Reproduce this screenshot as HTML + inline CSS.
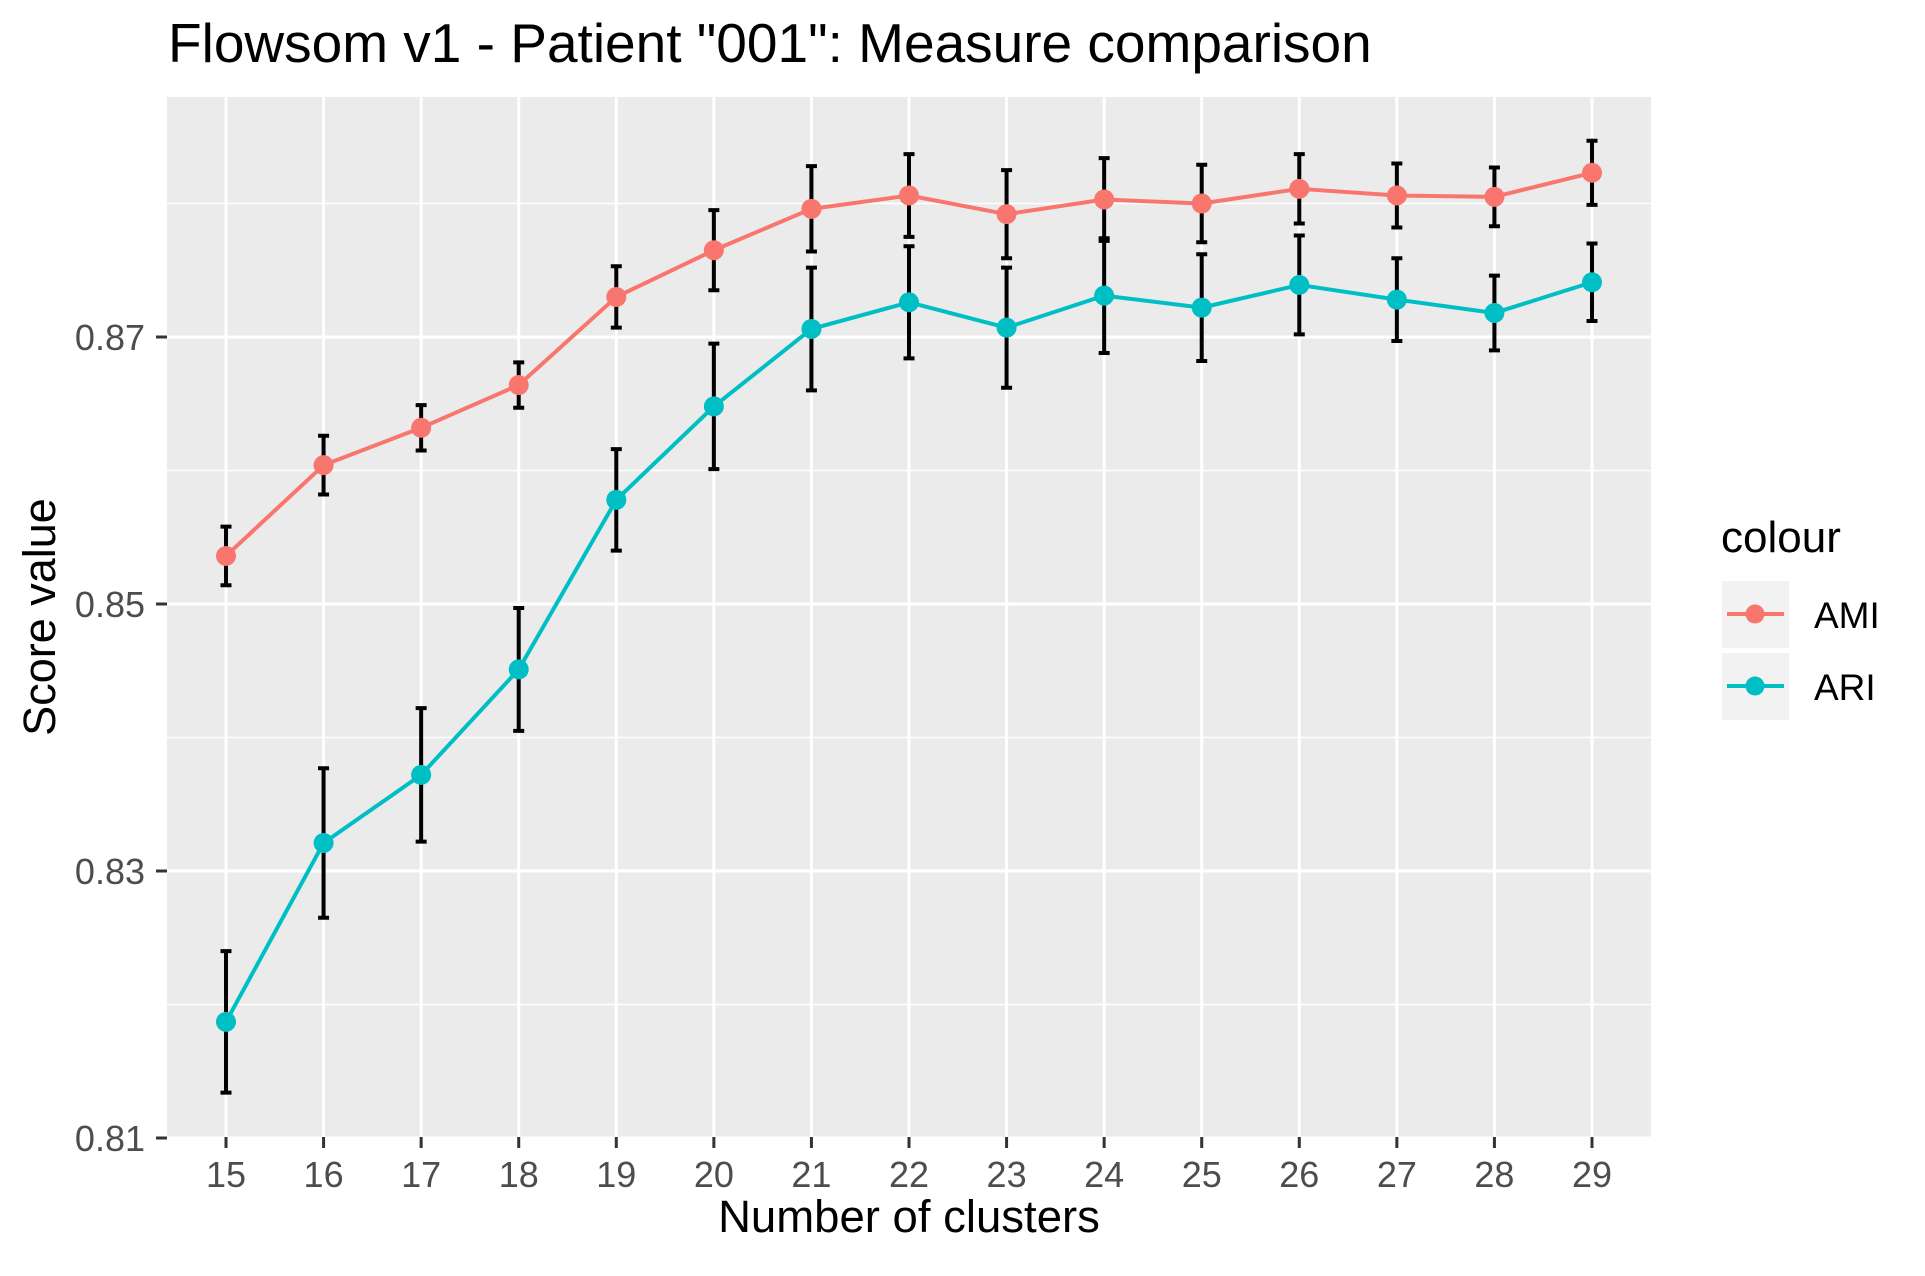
<!DOCTYPE html>
<html><head><meta charset="utf-8"><style>
body{margin:0;background:#fff;}
svg text{font-family:"Liberation Sans",Arial,sans-serif;}
</style></head><body>
<svg id="chart" width="1925" height="1271" viewBox="0 0 1925 1271" xmlns="http://www.w3.org/2000/svg">
<rect x="0" y="0" width="1925" height="1271" fill="#fff"/>
<text x="168" y="62" font-size="55" fill="#000">Flowsom v1 - Patient "001": Measure comparison</text>
<rect x="167" y="97" width="1484" height="1040" fill="#ebebeb"/>
<g id="grid"></g>
<g id="axes"></g>
<g id="series"></g>
<text x="909" y="1232" font-size="45.5" text-anchor="middle" fill="#000">Number of clusters</text>
<text transform="translate(55,617) rotate(-90)" font-size="45" text-anchor="middle" fill="#000">Score value</text>
<g>
<text x="1721" y="552" font-size="44" fill="#000">colour</text>
<g>
<rect x="1722" y="581" width="67" height="67" fill="#f2f2f2"/>
<line x1="1727" y1="614" x2="1784" y2="614" stroke="#F8766D" stroke-width="4"/>
<circle cx="1755" cy="614" r="9.5" fill="#F8766D"/>
<text x="1814" y="628" font-size="37" fill="#000">AMI</text>
</g>
<g>
<rect x="1722" y="653" width="67" height="67" fill="#f2f2f2"/>
<line x1="1727" y1="686" x2="1784" y2="686" stroke="#00BFC4" stroke-width="4"/>
<circle cx="1755" cy="686" r="9.5" fill="#00BFC4"/>
<text x="1814" y="700" font-size="37" fill="#000">ARI</text>
</g>
</g>
</svg>
<script>
const clusters = [15,16,17,18,19,20,21,22,23,24,25,26,27,28,29];
const amiValues = [0.8536,0.8604,0.8632,0.8664,0.8730,0.8765,0.8796,0.8806,0.8792,0.8803,0.8800,0.8811,0.8806,0.8805,0.8823];
const amiErrors = [0.0022,0.0022,0.0017,0.0017,0.0023,0.0030,0.0032,0.0031,0.0033,0.0031,0.0029,0.0026,0.0024,0.0022,0.0024];
const ariValues = [0.8187,0.8321,0.8372,0.8451,0.8578,0.8648,0.8706,0.8726,0.8707,0.8731,0.8722,0.8739,0.8728,0.8718,0.8741];
const ariErrors = [0.0053,0.0056,0.0050,0.0046,0.0038,0.0047,0.0046,0.0042,0.0045,0.0043,0.0040,0.0037,0.0031,0.0028,0.0029];
const yTicks = [0.81,0.83,0.85,0.87];
const yTickLabels = ["0.81","0.83","0.85","0.87"];
const yMinor = [0.82,0.84,0.86,0.88];

const NS="http://www.w3.org/2000/svg";
const P={l:167,r:1651,t:97,b:1137};
function xs(c){return 226+(c-clusters[0])*(1592-226)/(clusters[clusters.length-1]-clusters[0]);}
function ys(v){return 1138-(v-0.81)*13350;}
function mk(parent,tag,attrs){const e=document.createElementNS(NS,tag);for(const k in attrs)e.setAttribute(k,attrs[k]);parent.appendChild(e);return e;}
const grid=document.getElementById('grid'),axes=document.getElementById('axes'),series=document.getElementById('series');
yMinor.forEach(v=>{const l=mk(grid,'line',{x1:P.l,x2:P.r,y1:ys(v),y2:ys(v),stroke:'#fff','stroke-width':1.5});

});
yTicks.forEach((v,i)=>{const l=mk(grid,'line',{x1:P.l,x2:P.r,y1:ys(v),y2:ys(v),stroke:'#fff','stroke-width':3});


const t=mk(axes,'line',{x1:156,x2:167,y1:ys(v),y2:ys(v),stroke:'#333','stroke-width':3});


const tx=mk(axes,'text',{x:145,y:ys(v)+13,'font-size':36,fill:'#4d4d4d','text-anchor':'end'});tx.textContent=yTickLabels[i];

});
clusters.forEach(c=>{const l=mk(grid,'line',{x1:xs(c),x2:xs(c),y1:P.t,y2:P.b,stroke:'#fff','stroke-width':3});


const t=mk(axes,'line',{x1:xs(c),x2:xs(c),y1:1137,y2:1148,stroke:'#333','stroke-width':3});


const tx=mk(axes,'text',{x:xs(c),y:1187,'font-size':36,fill:'#4d4d4d','text-anchor':'middle'});tx.textContent=c;

});
function drawSeries(vals,errs,color,name){
  const g=mk(series,'g',{});
  
  
  const pts=clusters.map((c,i)=>xs(c)+','+ys(vals[i])).join(' ');
  const pl=mk(g,'polyline',{points:pts,fill:'none',stroke:color,'stroke-width':4,'stroke-linejoin':'round'});
  
  
  clusters.forEach((c,i)=>{
    const x=xs(c),y1=ys(vals[i]+errs[i]),y2=ys(vals[i]-errs[i]);
    const eb=mk(g,'path',{d:`M${x-5.5},${y1}H${x+5.5}M${x},${y1}V${y2}M${x-5.5},${y2}H${x+5.5}`,stroke:'#000','stroke-width':4,fill:'none'});
    
    
  });
  clusters.forEach((c,i)=>{
    const p=mk(g,'circle',{cx:xs(c),cy:ys(vals[i]),r:10,fill:color});
    
    
  });
}
drawSeries(amiValues,amiErrors,'#F8766D','ami');
drawSeries(ariValues,ariErrors,'#00BFC4','ari');
</script>
</body></html>
